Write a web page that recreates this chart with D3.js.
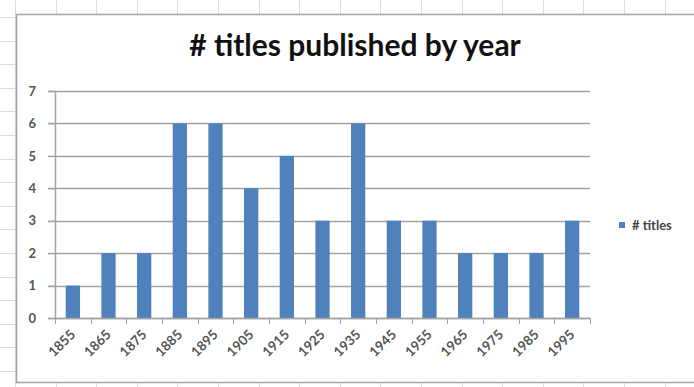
<!DOCTYPE html>
<meta charset="utf-8">
<style>
  body { margin: 0; background: #fff; }
  svg text { font-family: Lato, "Open Sans", sans-serif; }
</style>
<body>
<div id="chart"></div>
<script src="https://d3js.org/d3.v7.min.js"></script>
<script>

// data
var years = ["1855", "1865", "1875", "1885", "1895", "1905", "1915", "1925",
             "1935", "1945", "1955", "1965", "1975", "1985", "1995"];
var titles = [1, 2, 2, 6, 6, 4, 5, 3, 6, 3, 3, 2, 2, 2, 3];
var yTicks = [0, 1, 2, 3, 4, 5, 6, 7];
var seriesName = "# titles";
var chartTitle = "# titles published by year";

var W = 694, H = 387;

var svg = d3.select("#chart")
  .append("svg")
    .attr("width", W)
    .attr("height", H);

// spreadsheet cell grid behind the chart
var cellLines = svg.append("g").attr("stroke", "#dadcdd").attr("stroke-width", 1);
d3.range(15, W, 40.6).forEach(function(x) {
  cellLines.append("line")
    .attr("x1", Math.round(x) + 0.5).attr("x2", Math.round(x) + 0.5)
    .attr("y1", 0).attr("y2", H);
});
d3.range(17, H, 23.6).forEach(function(y) {
  cellLines.append("line")
    .attr("x1", 0).attr("x2", W)
    .attr("y1", Math.round(y) + 0.5).attr("y2", Math.round(y) + 0.5);
});

// chart area
svg.append("rect")
  .attr("x", 16.5).attr("y", 14.5)
  .attr("width", W + 10).attr("height", 368)
  .attr("fill", "#fff")
  .attr("stroke", "#a6a6a6")
  .attr("stroke-width", 1.5);

// plot area
var margin = {left: 55, right: 590, top: 91, bottom: 318};

var x = d3.scaleBand()
  .domain(years)
  .range([margin.left, margin.right])
  .paddingInner(0.6)
  .paddingOuter(0.3);

var y = d3.scaleLinear()
  .domain([0, 7])
  .range([margin.bottom, margin.top]);

// horizontal gridlines
svg.append("g")
  .selectAll("line")
  .data(yTicks)
  .enter()
  .append("line")
    .attr("x1", margin.left - 7)
    .attr("x2", margin.right)
    .attr("y1", function(d) { return Math.round(y(d)) + 0.5; })
    .attr("y2", function(d) { return Math.round(y(d)) + 0.5; })
    .attr("stroke", "#a3a3a3")
    .attr("stroke-width", 1.5);

// y axis
var yAxis = svg.append("g")
  .attr("transform", "translate(" + margin.left + ",0)")
  .call(d3.axisLeft(y).tickValues(yTicks).tickFormat(d3.format("d")).tickSize(7).tickPadding(12));
yAxis.select(".domain").attr("stroke", "#a3a3a3").attr("stroke-width", 1.5);
yAxis.selectAll(".tick line").attr("stroke", "#a3a3a3");
yAxis.selectAll("text")
  .style("font-size", "13px")
  .style("font-weight", "bold")
  .attr("fill", "#555");

// bars
svg.append("g")
  .selectAll("rect")
  .data(years)
  .enter()
  .append("rect")
    .attr("x", function(d) { return x(d); })
    .attr("y", function(d, i) { return y(titles[i]); })
    .attr("width", x.bandwidth())
    .attr("height", function(d, i) { return y(0) - y(titles[i]); })
    .attr("fill", "#4f81bd");

// x axis: ticks sit between the categories
var xAxisG = svg.append("g");
xAxisG.append("line")
  .attr("x1", margin.left).attr("x2", margin.right)
  .attr("y1", y(0) + 0.5).attr("y2", y(0) + 0.5)
  .attr("stroke", "#a3a3a3").attr("stroke-width", 1.5);
xAxisG.selectAll(".xtick")
  .data(d3.range(years.length + 1))
  .enter()
  .append("line")
    .attr("class", "xtick")
    .attr("x1", function(i) { return Math.round(margin.left + i * (margin.right - margin.left) / years.length) + 0.5; })
    .attr("x2", function(i) { return Math.round(margin.left + i * (margin.right - margin.left) / years.length) + 0.5; })
    .attr("y1", y(0))
    .attr("y2", y(0) + 6)
    .attr("stroke", "#a3a3a3");

xAxisG.selectAll(".xlabel")
  .data(years)
  .enter()
  .append("text")
    .attr("class", "xlabel")
    .attr("transform", function(d) {
      return "translate(" + (x(d) + x.bandwidth() / 2) + "," + (y(0) + 14) + ") rotate(-45)";
    })
    .attr("text-anchor", "end")
    .attr("dy", "0.35em")
    .style("font-size", "13.5px")
    .style("font-weight", "bold")
    .attr("fill", "#555")
    .text(function(d) { return d; });

// title
svg.append("text")
  .attr("x", 355)
  .attr("y", 56)
  .attr("text-anchor", "middle")
  .style("font-size", "30px")
  .style("font-weight", "bold")
  .attr("fill", "#111")
  .text(chartTitle);

// legend
var legend = svg.append("g").attr("transform", "translate(619,222)");
legend.append("rect")
  .attr("width", 6).attr("height", 6)
  .attr("fill", "#4f81bd");
legend.append("text")
  .attr("x", 13)
  .attr("y", 3)
  .attr("dy", "0.35em")
  .style("font-size", "13px")
  .style("font-weight", "bold")
  .attr("fill", "#444")
  .text(seriesName);

</script>
</body>
